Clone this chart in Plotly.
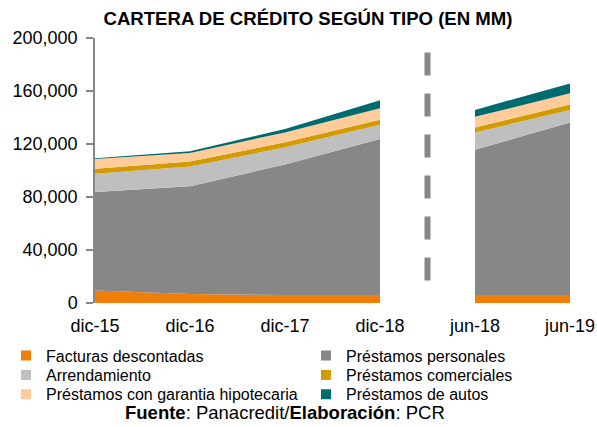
import plotly.graph_objects as go

categories = ["dic-15", "dic-16", "dic-17", "dic-18", "jun-18", "jun-19"]

facturas = [9450, 6750, 6000, 6000, 6000, 6000]
personales = [74250, 81450, 98500, 117750, 109700, 130250]
arrendamiento = [13800, 14800, 13000, 10750, 13000, 9500]
comerciales = [3750, 3750, 3750, 3750, 3800, 4000]
hipotecaria = [7500, 6500, 7500, 8750, 8000, 8500]
autos = [450, 1250, 2500, 6000, 5250, 7500]

series_names = ["Facturas descontadas", "Préstamos personales", "Arrendamiento",
                "Préstamos comerciales", "Préstamos con garantia hipotecaria",
                "Préstamos de autos"]
series_values = [facturas, personales, arrendamiento, comerciales, hipotecaria, autos]
colors = ["#F07F09", "#878787", "#BFBFBF", "#D09C00", "#FFCC99", "#006B6E"]

y_ticks = [0, 40000, 80000, 120000, 160000, 200000]

FONT = "Liberation Sans, Arial, sans-serif"
W, H = 597, 427

fig = go.Figure()

for name, vals, col in zip(series_names, series_values, colors):
    fig.add_trace(go.Scatter(
        x=categories, y=vals, name=name, mode="lines",
        stackgroup="one", line=dict(width=0, color=col),
        fillcolor=col, showlegend=False, hoverinfo="x+y+name"))

# one legend per entry: 2 columns x 3 rows (row-major, like the reference)
legend_ids = ["legend", "legend2", "legend3", "legend4", "legend5", "legend6"]
for name, col, lg in zip(series_names, colors, legend_ids):
    fig.add_trace(go.Scatter(
        x=[None], y=[None], name=name, mode="markers",
        marker=dict(symbol="square", size=10, color=col),
        showlegend=True, legend=lg))

# white gap between dic-18 and jun-18 with dashed separator
fig.add_shape(type="rect", xref="x", yref="y", x0=3, x1=4, y0=0, y1=200000,
              fillcolor="white", line=dict(width=0), layer="above")
fig.add_shape(type="line", xref="x", yref="y", x0=3.5, x1=3.5, y0=189000, y1=12600,
              line=dict(color="#878787", width=6, dash="23px,18px"), layer="above")


def legend_at(left_x, center_y):
    top = center_y - 17
    return dict(orientation="v", x=left_x / W, xref="container", xanchor="left",
                y=1 - top / H, yref="container", yanchor="top",
                font=dict(family=FONT, size=16, color="black"),
                itemwidth=30, bgcolor="rgba(0,0,0,0)")


row_y = [355.7, 375, 394.3]
col_x = [6, 306]
legends = {}
for i, lg in enumerate(legend_ids):
    legends[lg] = legend_at(col_x[i % 2], row_y[i // 2])

fig.update_layout(
    width=W, height=H,
    margin=dict(l=95, r=W - 570, t=38, b=H - 302.7, autoexpand=False),
    paper_bgcolor="white", plot_bgcolor="white",
    font=dict(family=FONT, color="black"),
    title=dict(text="<b>CARTERA DE CRÉDITO SEGÚN TIPO (EN MM)</b>",
               x=308 / W, xanchor="center", xref="container",
               y=1 - 18 / H, yanchor="middle", yref="container",
               font=dict(family=FONT, size=18.6, color="black")),
    xaxis=dict(type="category", categoryorder="array", categoryarray=categories,
               range=[0, 5], showgrid=False, zeroline=False, showline=False,
               automargin=False,
               ticks="outside", ticklen=6, tickcolor="rgba(0,0,0,0)",
               tickfont=dict(family=FONT, size=18, color="black")),
    yaxis=dict(range=[0, 200000], tickvals=y_ticks, tickformat=",",
               showgrid=False, zeroline=False, showline=True, automargin=False,
               linecolor="#878787", linewidth=1.5,
               ticks="outside", ticklen=7, tickcolor="#878787", tickwidth=1.5,
               ticklabelstandoff=5,
               tickfont=dict(family=FONT, size=18, color="black")),
    annotations=[dict(
        text="<b>Fuente</b>: Panacredit/<b>Elaboración</b>: PCR",
        xref="paper", yref="paper", x=(285 - 95) / 475, xanchor="center",
        y=(302.7 - 412) / 265, yanchor="middle", showarrow=False,
        font=dict(family=FONT, size=18.5, color="black"))],
    **legends,
)

fig.write_html("out.html", config={"displayModeBar": False},
               post_script="document.body.style.margin='0';document.body.style.overflow='hidden';")
